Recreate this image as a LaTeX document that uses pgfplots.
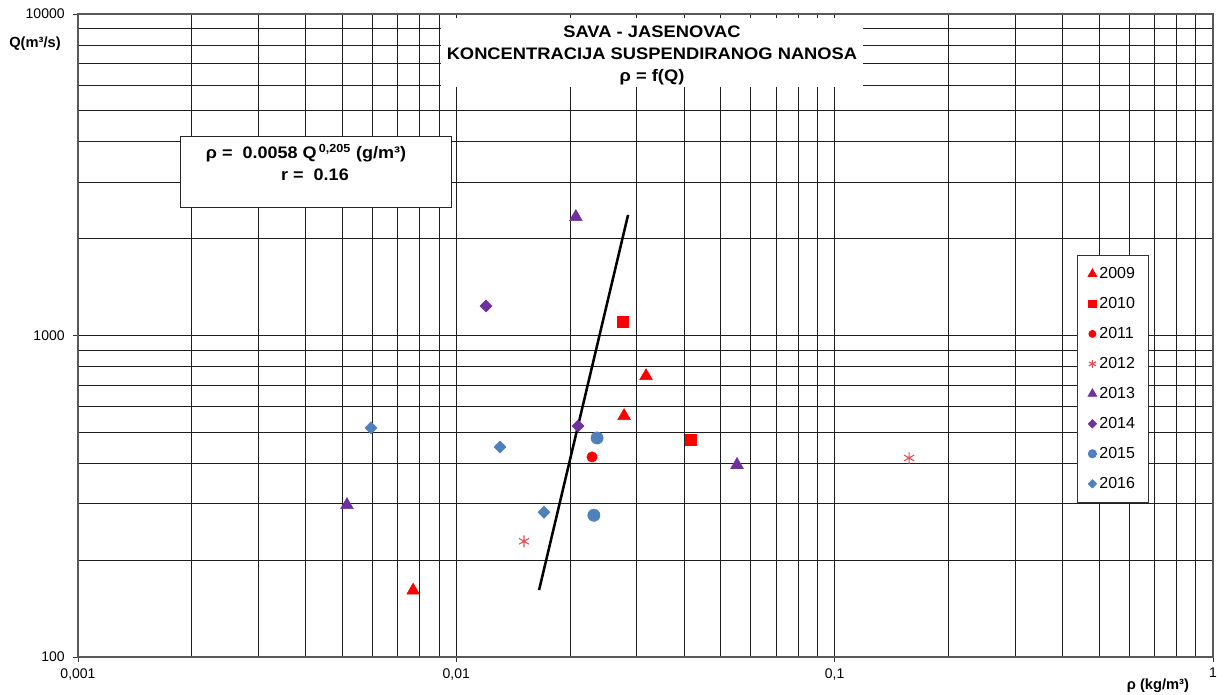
\documentclass[border=0pt]{standalone}
\usepackage{pgfplots}
\pgfplotsset{compat=1.18}
\usepackage{fontspec}
\setmainfont{Liberation Sans}
\definecolor{c9}{RGB}{255,0,0}
\definecolor{c12}{RGB}{232,72,80}
\definecolor{c13}{RGB}{112,48,160}
\definecolor{c15}{RGB}{79,129,189}
\begin{document}
\begin{tikzpicture}
\begin{axis}[
  xmode=log, ymode=log,
  xmin=0.001, xmax=1, ymin=100, ymax=10000,
  scale only axis, width=851.25pt, height=482.25pt,
  xtick={0.001,0.01,0.1,1}, xticklabels={{0,001},{0,01},{0,1},{1}},
  ytick={100,1000,10000}, yticklabels={100,1000,10000},
  grid=both,
  major grid style={black!88, line width=0.75pt},
  minor grid style={black!88, line width=0.75pt},
  tick pos=left,
  tick align=outside, major tick length=4pt, minor tick length=0pt,
  tick style={black!80, line width=0.6pt},
  axis line style={black!65, line width=1pt},
  tick label style={font=\fontsize{10.5}{12}\selectfont},
  xticklabel style={yshift=-1pt},
  yticklabel style={xshift=-2.5pt},
  xlabel={\textbf{ρ (kg/m³)}},
  ylabel={\textbf{Q(m³/s)}},
  every axis x label/.style={at={(axis description cs:0.9515,0)}, anchor=center, yshift=-21.75pt, font=\fontsize{11}{13}\selectfont},
  every axis y label/.style={at={(axis description cs:0,0.9533)}, anchor=center, xshift=-32.25pt, font=\fontsize{11}{13}\selectfont},
  legend style={at={(0.8802,0.6252)}, anchor=north west, draw=black!80, line width=0.6pt,
    font=\fontsize{12}{14}\selectfont, row sep=8.6pt, inner xsep=8pt, inner ysep=7pt,
    cells={anchor=west}},
  legend image code/.code={\draw[#1, every mark/.append style={scale=0.68}] plot coordinates {(0.1cm,0cm)};},
]
\addplot[only marks, mark=triangle*, mark size=5.5pt, color=c9] coordinates {(0.00769,161) (0.02776,562) (0.03173,748)};
\addlegendentry{2009}
\addplot[only marks, mark=square*, mark size=4pt, color=c9] coordinates {(0.02759,1102) (0.04173,473)};
\addlegendentry{2010}
\addplot[only marks, mark=*, mark size=3.9pt, color=c9] coordinates {(0.02284,419)};
\addlegendentry{2011}
\addplot[only marks, mark=asterisk, mark size=4.4pt, color=c12, mark options={line width=0.8pt}] coordinates {(0.0151,229) (0.1573,416)};
\addlegendentry{2012}
\addplot[only marks, mark=triangle*, mark size=5.5pt, color=c13] coordinates {(0.0207,2337) (0.00514,297) (0.0552,396)};
\addlegendentry{2013}
\addplot[only marks, mark=square*, mark size=3.2pt, color=c13, mark options={rotate=45}] coordinates {(0.01198,1235) (0.02098,523)};
\addlegendentry{2014}
\addplot[only marks, mark=*, mark size=4.6pt, color=c15] coordinates {(0.02355,480) (0.0231,276)};
\addlegendentry{2015}
\addplot[only marks, mark=square*, mark size=3.2pt, color=c15, mark options={rotate=45}] coordinates {(0.00595,516) (0.01305,450) (0.01705,282)};
\addlegendentry{2016}
\addplot[black, line width=1.9pt, forget plot] coordinates {(0.01655,161.6) (0.02844,2371)};
\end{axis}
% title box
\fill[white] (272.25pt,427.5pt) rectangle (588.75pt,479.25pt);
\node[align=center, xscale=1.1, font=\fontsize{12.5}{16.5}\selectfont\bfseries] at (430.5pt,451.5pt)
  {SAVA - JASENOVAC\\KONCENTRACIJA SUSPENDIRANOG NANOSA\\ρ = f(Q)};
% equation box
\draw[fill=white, draw=black!85, line width=0.7pt] (76.5pt,337.5pt) rectangle (279.75pt,390.75pt);
\node[xscale=1.08, font=\fontsize{12.5}{14}\selectfont\bfseries] at (171pt,378pt) {ρ =\ \ 0.0058 Q\textsuperscript{\,0,205} (g/m³)};
\node[xscale=1.08, font=\fontsize{12.5}{14}\selectfont\bfseries] at (177.75pt,361.5pt) {r =\ \ 0.16};
\pgfresetboundingbox
\path[use as bounding box] (-58.5pt,-28.5pt) rectangle (859.5pt,492.75pt);
\end{tikzpicture}
\end{document}
